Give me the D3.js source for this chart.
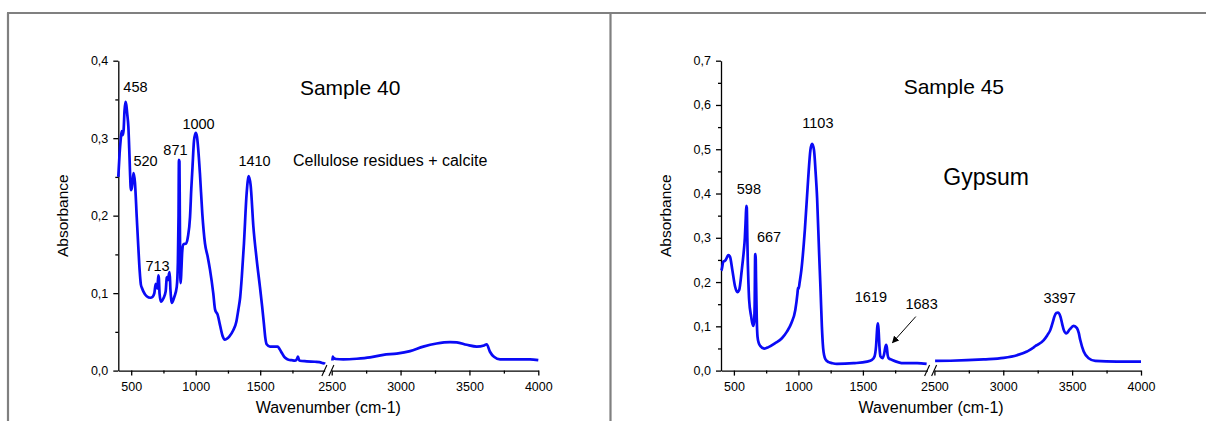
<!DOCTYPE html>
<html>
<head>
<meta charset="utf-8">
<script src="https://cdn.jsdelivr.net/npm/d3@7"></script>
<style>
  body { margin: 0; background: #fff; }
  svg { display: block; }
  text { font-family: "Liberation Sans", Arial, sans-serif; fill: #000; }
</style>
</head>
<body>
<svg width="1206" height="421"></svg>
<script>
//--------------------------DATA------------------------------------------------
// Sample 40 spectrum, [wavenumber, absorbance], low and high ranges
var s40Low = [
    [400,0.25],[410,0.28],[418,0.297],[426,0.309],[434,0.304],[441,0.31],[448,0.335],[455,0.347],
    [462,0.343],[470,0.33],[478,0.315],[486,0.28],[491,0.255],[498,0.233],[505,0.236],[512,0.246],
    [519,0.255],[529,0.243],[543,0.198],[555,0.160],[566,0.128],[575,0.111],[585,0.106],[595,0.102],
    [620,0.096],[650,0.094],[665,0.095],[679,0.0996],[690,0.112],[697,0.108],[703,0.106],[710,0.123],
    [714,0.12],[720,0.099],[731,0.089],[749,0.093],[767,0.102],[776,0.12],[782,0.121],[787,0.117],
    [793,0.125],[798,0.127],[804,0.105],[810,0.092],[816,0.0875],[834,0.095],[853,0.108],[862,0.14],
    [867,0.2],[870,0.272],[874,0.27],[877,0.2],[881,0.12],[884,0.113],[889,0.13],[896,0.155],
    [905,0.163],[925,0.164],[940,0.173],[956,0.198],[966,0.235],[975,0.262],[987,0.297],[1000,0.307],
    [1010,0.302],[1020,0.285],[1033,0.254],[1051,0.203],[1072,0.164],[1093,0.147],[1111,0.130],
    [1136,0.100],[1150,0.079],[1160,0.075],[1168,0.073],[1188,0.059],[1210,0.044],[1225,0.040],
    [1240,0.041],[1260,0.044],[1291,0.052],[1315,0.063],[1330,0.078],[1345,0.095],[1357,0.12],
    [1374,0.164],[1395,0.229],[1411,0.251],[1426,0.239],[1447,0.186],[1473,0.143],[1498,0.108],
    [1515,0.083],[1529,0.060],[1540,0.042],[1550,0.034],[1576,0.031],[1607,0.031],[1635,0.031],
    [1650,0.028],[1667,0.023],[1685,0.018],[1700,0.0157],[1720,0.014],[1744,0.0135],[1770,0.013],
    [1785,0.015],[1793,0.018],[1800,0.014],[1808,0.0127],[1860,0.012],[1925,0.0114],[1960,0.011],
    [1994,0.0093],[1998,0.011]
];
var s40High = [
    [2505,0.013],[2508,0.018],[2515,0.016],[2530,0.015],[2584,0.0145],[2682,0.0153],[2778,0.017],
    [2875,0.0204],[2972,0.022],[3069,0.0252],[3165,0.031],[3262,0.035],[3359,0.0368],[3408,0.0364],
    [3480,0.0333],[3553,0.031],[3606,0.0325],[3625,0.034],[3649,0.0243],[3678,0.0178],[3722,0.0145],
    [3818,0.0145],[3940,0.0145],[4000,0.0135]
];
// Sample 45 spectrum
var s45Low = [
    [400,0.226],[405,0.228],[418,0.246],[430,0.248],[440,0.252],[457,0.261],[470,0.257],[488,0.227],
    [509,0.190],[527,0.177],[541,0.182],[561,0.227],[575,0.265],[585,0.30],[592,0.345],[596,0.372],
    [600,0.368],[604,0.30],[608,0.242],[613,0.195],[618,0.160],[634,0.122],[649,0.101],[656,0.108],
    [661,0.15],[665,0.263],[668,0.263],[672,0.20],[677,0.12],[683,0.077],[693,0.062],[704,0.056],
    [737,0.0497],[768,0.053],[820,0.062],[872,0.073],[911,0.088],[945,0.107],[976,0.137],[993,0.175],
    [997,0.187],[1002,0.185],[1010,0.2],[1023,0.227],[1050,0.318],[1075,0.430],[1093,0.498],
    [1106,0.512],[1121,0.498],[1133,0.45],[1145,0.39],[1160,0.27],[1172,0.18],[1182,0.10],
    [1192,0.05],[1200,0.034],[1209,0.026],[1235,0.019],[1259,0.017],[1298,0.015],[1428,0.0167],
    [1532,0.0203],[1570,0.024],[1590,0.032],[1602,0.055],[1612,0.100],[1617,0.107],[1622,0.09],
    [1628,0.055],[1636,0.032],[1652,0.028],[1665,0.038],[1672,0.05],[1680,0.058],[1686,0.052],
    [1692,0.035],[1700,0.028],[1727,0.024],[1817,0.0167],[1921,0.0167],[1994,0.015]
];
var s45High = [
    [2505,0.022],[2616,0.0223],[2858,0.0253],[3003,0.0287],[3100,0.0348],[3172,0.043],[3220,0.052],
    [3233,0.0557],[3257,0.0596],[3294,0.069],[3320,0.08],[3342,0.092],[3360,0.11],[3371,0.122],
    [3385,0.13],[3397,0.131],[3415,0.122],[3428,0.105],[3439,0.092],[3458,0.084],[3482,0.093],
    [3511,0.101],[3535,0.096],[3548,0.085],[3559,0.069],[3584,0.043],[3620,0.028],[3668,0.022],
    [3825,0.0203],[4000,0.0203]
];

// peak labels: [text, wavenumber, absorbance] (label anchor in data units)
var s40Labels = [["458",533,0.359],["520",611,0.264],["871",843,0.278],["1000",1022,0.312],
                 ["1410",1456,0.264],["713",704,0.128]];
var s45Labels = [["1103",1151,0.547],["598",616,0.399],["667",772,0.291],["1619",1562,0.156],
                 ["1683",1955,0.139],["3397",3409,0.153]];

// axis ticks
var xMajorLow = [500, 1000, 1500];
var xMinorLow = [750, 1250, 1750];
var xMajorHigh = [2500, 3000, 3500, 4000];
var xMinorHigh = [2750, 3250, 3750];
var yMax40 = 0.4;
var yMax45 = 0.7;


//--------------------------LAYOUT----------------------------------------------
var svg = d3.select("svg");
var plotTop = 60.7;
var plotBottom = 370.6;
var commaFmt = function(d) { return d3.format(".1f")(d).replace(".", ","); };

// frame lines
svg.append("path")
    .attr("d", "M7,13H1206M8,13V421M610.5,13V421")
    .style("fill", "none")
    .style("stroke", "#808080")
    .style("stroke-width", 2.2);

svg.append("defs").append("marker")
    .attr("id", "arrow")
    .attr("viewBox", "0 0 10 10")
    .attr("refX", 9).attr("refY", 5)
    .attr("markerWidth", 7).attr("markerHeight", 7)
    .attr("orient", "auto")
    .append("path").attr("d", "M0,0L10,5L0,10z").style("fill", "#000");


//--------------------------PANEL-----------------------------------------------
function drawPanel(p) {
    var g = svg.append("g");
    var xa = d3.scaleLinear().domain([400, 2000]).range([p.x0, p.x0 + 206.4]);
    var xb = d3.scaleLinear().domain([2500, 4000]).range([p.x0 + 213.4, p.x0 + 420]);
    var xs = function(wn) { return wn <= 2250 ? xa(wn) : xb(wn); };
    var y = d3.scaleLinear().domain([0, p.yMax]).range([plotBottom, plotTop]);

    var yMajor = d3.range(0, p.yMax + 0.001, 0.1);
    var yMinor = d3.range(0.05, p.yMax, 0.1);

    // x axes (broken)
    [[xa, xMajorLow, xMinorLow], [xb, xMajorHigh, xMinorHigh]].forEach(function(s) {
        g.append("g")
            .attr("class", "axis")
            .attr("transform", "translate(0," + plotBottom + ")")
            .call(d3.axisBottom(s[0]).tickValues(s[1]).tickSize(5).tickSizeOuter(0)
                .tickPadding(7).tickFormat(d3.format("d")));
        g.append("g")
            .attr("class", "axis minor")
            .attr("transform", "translate(0," + plotBottom + ")")
            .call(d3.axisBottom(s[0]).tickValues(s[2]).tickSize(3).tickFormat(""))
            .select(".domain").remove();
    });

    // break marks
    [xa(2000), xb(2500)].forEach(function(bx) {
        g.append("line")
            .attr("x1", bx - 2.8).attr("y1", plotBottom + 5.5)
            .attr("x2", bx + 2.2).attr("y2", plotBottom - 5.5)
            .style("stroke", "#000").style("stroke-width", 1.1);
    });

    // y axis
    g.append("g")
        .attr("class", "axis")
        .attr("transform", "translate(" + p.x0 + ",0)")
        .call(d3.axisLeft(y).tickValues(yMajor).tickSize(5).tickSizeOuter(0)
            .tickPadding(5).tickFormat(commaFmt));
    g.append("g")
        .attr("class", "axis minor")
        .attr("transform", "translate(" + p.x0 + ",0)")
        .call(d3.axisLeft(y).tickValues(yMinor).tickSize(3).tickFormat(""))
        .select(".domain").remove();

    g.selectAll(".axis .domain, .axis line")
        .style("stroke", "#000")
        .style("stroke-width", 1.3);
    g.selectAll(".axis text")
        .style("font-size", "12.5px")
        .style("font-family", "'Liberation Sans', Arial, sans-serif")
        .style("fill", "#000");

    // axis titles
    g.append("text")
        .attr("transform", "translate(" + (p.x0 - 50) + "," + ((plotTop + plotBottom) / 2) + ") rotate(-90)")
        .style("text-anchor", "middle")
        .style("font-size", "15.5px")
        .text("Absorbance");
    g.append("text")
        .attr("x", p.x0 + 210)
        .attr("y", 413)
        .style("text-anchor", "middle")
        .style("font-size", "16px")
        .text("Wavenumber (cm-1)");

    // spectrum
    var line = d3.line()
        .x(function(d) { return xs(d[0]); })
        .y(function(d) { return y(d[1]); })
        .curve(d3.curveMonotoneX);
    [p.low, p.high].forEach(function(series) {
        g.append("path")
            .attr("d", line(series))
            .style("fill", "none")
            .style("stroke", "#0a0af5")
            .style("stroke-width", 2.7)
            .style("stroke-linejoin", "round");
    });

    // peak labels
    g.selectAll(".peak")
        .data(p.labels)
        .enter().append("text")
        .attr("x", function(d) { return xs(d[1]); })
        .attr("y", function(d) { return y(d[2]); })
        .style("text-anchor", "middle")
        .style("font-size", "14.5px")
        .text(function(d) { return d[0]; });

    g.append("text")
        .attr("x", xs(p.title[1]))
        .attr("y", y(p.title[2]))
        .style("font-size", "21px")
        .text(p.title[0]);

    p.notes.forEach(function(n) {
        g.append("text")
            .attr("x", xs(n[1]))
            .attr("y", y(n[2]))
            .style("font-size", n[3])
            .text(n[0]);
    });

    if (p.arrow) {
        g.append("line")
            .attr("x1", xs(p.arrow[0])).attr("y1", y(p.arrow[1]))
            .attr("x2", xs(p.arrow[2])).attr("y2", y(p.arrow[3]))
            .style("stroke", "#000").style("stroke-width", 1)
            .attr("marker-end", "url(#arrow)");
    }
}

drawPanel({
    x0: 118.3, yMax: yMax40, low: s40Low, high: s40High, labels: s40Labels,
    title: ["Sample 40", 1808, 0.356],
    notes: [["Cellulose residues + calcite", 1754, 0.264, "16px"]]
});
drawPanel({
    x0: 721, yMax: yMax45, low: s45Low, high: s45High, labels: s45Labels,
    title: ["Sample 45", 1816, 0.624],
    notes: [["Gypsum", 2565, 0.42, "23px"]],
    arrow: [1910, 0.122, 1729, 0.063]
});
</script>
</body>
</html>
